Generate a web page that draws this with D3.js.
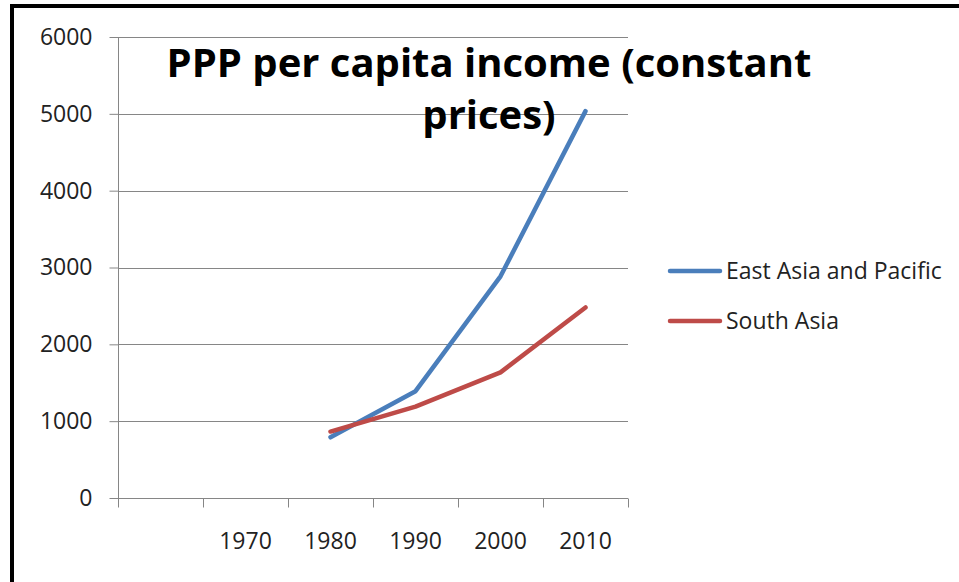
<!DOCTYPE html>
<html>
<head>
<meta charset="utf-8">
<script src="https://cdn.jsdelivr.net/npm/d3@7"></script>
<style>
  body { margin: 0; background: #fff; }
  svg { display: block; }
</style>
</head>
<body>
<div id="chart"></div>
<script>
// categories on the x axis (first slot has no label)
const categories = ["", "1970", "1980", "1990", "2000", "2010"];
const years = ["1980", "1990", "2000", "2010"];
const eastAsia = [790, 1390, 2885, 5035];
const southAsia = [865, 1190, 1635, 2480];
const yTicks = [0, 1000, 2000, 3000, 4000, 5000, 6000];
const seriesNames = ["East Asia and Pacific", "South Asia"];
const seriesColors = ["#4a7ebb", "#be4b48"];
const titleLines = ["PPP per capita income (constant", "prices)"];

const width = 959;
const height = 582;
const margin = { top: 37, left: 118, right: 331, bottom: 84 };

const svg = d3
  .select("#chart")
  .append("svg")
  .attr("width", width)
  .attr("height", height);

const x = d3
  .scaleBand()
  .domain(categories)
  .range([margin.left, width - margin.right])
  .padding(0);

const y = d3
  .scaleLinear()
  .domain([0, 6000])
  .range([height - margin.bottom, margin.top]);

const gray = "#868686";
const font = "'Open Sans', sans-serif";
const tickFont = 23;

// gridlines
svg
  .append("g")
  .selectAll("line")
  .data(yTicks.filter((d) => d > 0))
  .join("line")
  .attr("x1", margin.left)
  .attr("x2", width - margin.right)
  .attr("y1", (d) => Math.round(y(d)) + 0.5)
  .attr("y2", (d) => Math.round(y(d)) + 0.5)
  .attr("stroke", gray)
  .attr("stroke-width", 1);

// y axis
const yAxis = d3
  .axisLeft(y)
  .tickValues(yTicks)
  .tickFormat(d3.format("d"))
  .tickSize(9)
  .tickPadding(17);
const yGroup = svg
  .append("g")
  .attr("transform", `translate(${margin.left + 0.5},0)`)
  .call(yAxis);
yGroup.selectAll("path, line").attr("stroke", gray);
yGroup.select(".domain").attr("d", `M0,${y(6000)}V${y(0)}`);
yGroup
  .selectAll("text")
  .attr("font-family", font)
  .attr("font-size", tickFont)
  .attr("fill", "#222");

// x axis: labels centred in bands, ticks on band edges
const xAxis = d3.axisBottom(x).tickSize(0).tickPadding(34);
const xGroup = svg
  .append("g")
  .attr("transform", `translate(0,${Math.round(y(0)) + 0.5})`)
  .call(xAxis);
xGroup.select(".domain").attr("stroke", gray).attr("d", `M${margin.left},0H${width - margin.right}`);
xGroup
  .selectAll("text")
  .attr("font-family", font)
  .attr("font-size", tickFont)
  .attr("fill", "#222");

const edges = categories.map((c) => x(c)).concat([x(categories[categories.length - 1]) + x.bandwidth()]);
xGroup
  .append("g")
  .selectAll("line")
  .data(edges)
  .join("line")
  .attr("x1", (d) => Math.round(d) + 0.5)
  .attr("x2", (d) => Math.round(d) + 0.5)
  .attr("y1", 0)
  .attr("y2", 9)
  .attr("stroke", gray);

// lines
const line = d3
  .line()
  .x((d, i) => x(years[i]) + x.bandwidth() / 2)
  .y((d) => y(d));

[eastAsia, southAsia].forEach((vals, i) => {
  svg
    .append("path")
    .datum(vals)
    .attr("d", line)
    .attr("fill", "none")
    .attr("stroke", seriesColors[i])
    .attr("stroke-width", 4.5)
    .attr("stroke-linejoin", "round")
    .attr("stroke-linecap", "round");
});

// title
const title = svg
  .append("text")
  .attr("font-family", font)
  .attr("font-weight", "bold")
  .attr("font-size", 40)
  .attr("text-anchor", "middle")
  .attr("fill", "#000");
title
  .selectAll("tspan")
  .data(titleLines)
  .join("tspan")
  .attr("x", 489)
  .attr("y", (d, i) => 77 + i * 52)
  .text((d) => d);

// legend
const legend = svg
  .append("g")
  .selectAll("g")
  .data(seriesNames)
  .join("g")
  .attr("transform", (d, i) => `translate(668,${271 + i * 50})`);
legend
  .append("line")
  .attr("x1", 2)
  .attr("x2", 52)
  .attr("stroke", (d, i) => seriesColors[i])
  .attr("stroke-width", 4.5)
  .attr("stroke-linecap", "round");
legend
  .append("text")
  .attr("x", 58)
  .attr("y", 8)
  .attr("font-family", font)
  .attr("font-size", tickFont)
  .attr("fill", "#222")
  .text((d) => d);

// frame
svg
  .append("path")
  .attr("d", `M12,${height}V6H${width}`)
  .attr("fill", "none")
  .attr("stroke", "#000")
  .attr("stroke-width", 4);
</script>
</body>
</html>
